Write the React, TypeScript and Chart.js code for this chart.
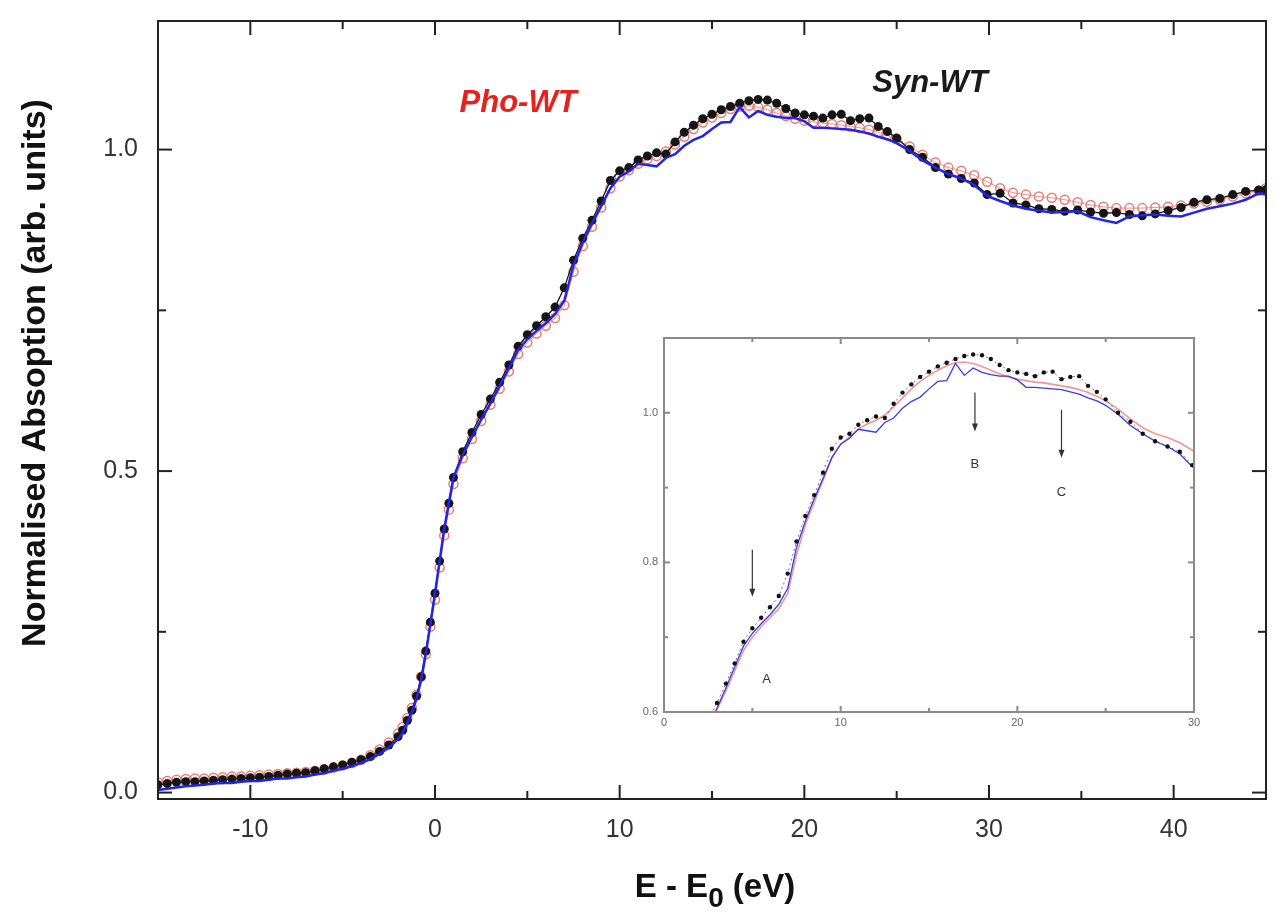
import React, { useEffect, useRef } from "react";
import { Chart, registerables } from "chart.js";

Chart.register(...registerables);

// ---------- DATA ----------
const energy = [
  -15, -14.5, -14, -13.5, -13, -12.5, -12, -11.5, -11, -10.5, -10, -9.5, -9, -8.5, -8, -7.5, -7, -6.5, -6, -5.5, -5, -4.5, -4, -3.5, -3, -2.5, -2,
  -1.75, -1.5, -1.25, -1, -0.75, -0.5, -0.25, 0, 0.25, 0.5, 0.75, 1,
  1.5, 2, 2.5, 3, 3.5, 4, 4.5, 5, 5.5, 6, 6.5, 7, 7.5, 8, 8.5, 9, 9.5, 10, 10.5, 11, 11.5, 12, 12.5, 13, 13.5, 14, 14.5, 15, 15.5, 16, 16.5, 17, 17.5, 18, 18.5, 19, 19.5, 20, 20.5, 21, 21.5, 22, 22.5, 23, 23.5, 24, 24.5, 25,
  25.7, 26.4, 27.1, 27.8, 28.5, 29.2, 29.9, 30.6, 31.3, 32, 32.7, 33.4, 34.1, 34.8, 35.5, 36.2, 36.9, 37.6, 38.3, 39, 39.7, 40.4, 41.1, 41.8, 42.5, 43.2, 43.9, 44.6, 45,
];

const synWT = [
  0.012, 0.014, 0.016, 0.017, 0.017, 0.018, 0.019, 0.02, 0.021, 0.022, 0.023, 0.024, 0.025, 0.027, 0.029, 0.03, 0.031, 0.034, 0.037, 0.04, 0.043, 0.047, 0.051, 0.056, 0.064, 0.074, 0.087,
  0.097, 0.112, 0.128, 0.15, 0.18, 0.22, 0.265, 0.31, 0.36, 0.41, 0.45, 0.49,
  0.53, 0.56, 0.588, 0.612, 0.638, 0.665, 0.694, 0.712, 0.726, 0.74, 0.755, 0.785, 0.828, 0.862, 0.89, 0.92, 0.952, 0.967, 0.972, 0.984, 0.99, 0.995, 0.993, 1.012, 1.027, 1.038, 1.048, 1.055, 1.062, 1.067, 1.072, 1.076, 1.078, 1.077, 1.072, 1.064, 1.057, 1.054, 1.052, 1.049, 1.054, 1.055, 1.045, 1.048, 1.049, 1.036, 1.028, 1.018,
  1.0, 0.988, 0.972, 0.962, 0.955, 0.948, 0.93, 0.932, 0.917, 0.914, 0.908, 0.907, 0.904, 0.906, 0.903, 0.901, 0.902, 0.899, 0.897, 0.9, 0.905, 0.91, 0.918, 0.922, 0.924, 0.93, 0.935, 0.937, 0.938,
];

const phoWT = [
  0.016, 0.018, 0.02, 0.021, 0.022, 0.022, 0.023, 0.024, 0.025, 0.025, 0.026, 0.027, 0.028, 0.029, 0.03, 0.031, 0.032, 0.034, 0.036, 0.039, 0.042, 0.046, 0.051, 0.058, 0.067, 0.078, 0.092,
  0.102, 0.116, 0.132, 0.152, 0.18, 0.215, 0.258, 0.3, 0.35, 0.4, 0.44, 0.48,
  0.52, 0.55, 0.578, 0.603, 0.628, 0.655, 0.682, 0.7, 0.714, 0.726, 0.738, 0.758, 0.81, 0.85, 0.88, 0.91, 0.94, 0.958, 0.968, 0.978, 0.985, 0.99, 0.997, 1.008, 1.02, 1.032, 1.042, 1.05, 1.057, 1.063, 1.067, 1.068, 1.066, 1.062, 1.057, 1.052, 1.048, 1.045, 1.043, 1.041, 1.04, 1.038, 1.036, 1.034, 1.031, 1.027, 1.022, 1.016,
  1.005, 0.992, 0.98, 0.972, 0.967, 0.96, 0.95, 0.94, 0.933, 0.93, 0.927, 0.925, 0.922, 0.918, 0.914, 0.911, 0.909, 0.909, 0.909, 0.91, 0.911, 0.913, 0.916, 0.919, 0.922, 0.927, 0.932, 0.936, 0.94,
];

const blueWT = [
  0.004, 0.006, 0.008, 0.01, 0.011, 0.012, 0.014, 0.015, 0.015, 0.017, 0.018, 0.018, 0.02, 0.022, 0.022, 0.024, 0.025, 0.028, 0.03, 0.034, 0.037, 0.041, 0.046, 0.052, 0.06, 0.07, 0.083,
  0.093, 0.108, 0.125, 0.146, 0.175, 0.215, 0.262, 0.31, 0.36, 0.41, 0.45, 0.49,
  0.525, 0.553, 0.58, 0.605, 0.632, 0.66, 0.688, 0.705, 0.718, 0.73, 0.744, 0.765, 0.82, 0.855, 0.885, 0.912, 0.94, 0.958, 0.966, 0.978, 0.976, 0.974, 0.987, 0.993, 1.006, 1.015, 1.021, 1.032, 1.042, 1.043, 1.066, 1.05, 1.06, 1.054, 1.051, 1.049, 1.049, 1.044, 1.034, 1.034, 1.033, 1.032, 1.031, 1.028, 1.025, 1.02, 1.016, 1.01,
  0.998, 0.983, 0.972, 0.962, 0.955, 0.945, 0.928, 0.92, 0.913, 0.908, 0.905, 0.902, 0.903, 0.904, 0.895, 0.89, 0.886, 0.896, 0.898, 0.899, 0.897, 0.896, 0.902, 0.908, 0.912, 0.916, 0.922, 0.932, 0.93,
];

const mainXTicks = [-10, 0, 10, 20, 30, 40];
const mainXMinor = [-5, 5, 15, 25, 35];
const mainYTicks = [0, 0.5, 1.0];
const mainYMinor = [0.25, 0.75];

const insetXTicks = [0, 10, 20, 30];
const insetXMinor = [5, 15, 25];
const insetYTicks = [0.6, 0.8, 1.0];
const insetYMinor = [0.7, 0.9];

const seriesLabels = ["Pho-WT", "Syn-WT"];
const labelX = [4.5, 26.8];
const labelY = [1.058, 1.09];

const arrowNames = ["A", "B", "C"];
const arrowX = [5.0, 17.6, 22.5];
const arrowTop = [0.817, 1.027, 1.004];
const arrowBottom = [0.754, 0.975, 0.94];
const arrowLabelX = [5.8, 17.6, 22.5];
const arrowLabelY = [0.643, 0.931, 0.894];

const FONT = "'Liberation Sans', Arial, Helvetica, sans-serif";

// ---------- helpers ----------
function pts(ys: number[]) {
  return energy.map((e, i) => ({ x: e, y: ys[i] }));
}

function zeroPad(s: any) {
  s.paddingTop = 0;
  s.paddingBottom = 0;
  s.paddingLeft = 0;
  s.paddingRight = 0;
}

function frameTicksPlugin(cfg: any) {
  return {
    id: "frameTicks" + cfg.id,
    afterDatasetsDraw(chart: any) {
      const { ctx, chartArea: a, scales } = chart;
      const x = scales.x;
      const y = scales.y;
      ctx.save();
      ctx.strokeStyle = cfg.color;
      ctx.lineWidth = cfg.lineWidth;
      const seg = (x1: number, y1: number, x2: number, y2: number) => {
        ctx.beginPath();
        ctx.moveTo(x1, y1);
        ctx.lineTo(x2, y2);
        ctx.stroke();
      };
      const xt = (vals: number[], len: number) =>
        vals.forEach((v) => {
          const p = x.getPixelForValue(v);
          seg(p, a.bottom, p, a.bottom - len);
          seg(p, a.top, p, a.top + len);
        });
      const yt = (vals: number[], len: number) =>
        vals.forEach((v) => {
          const p = y.getPixelForValue(v);
          seg(a.left, p, a.left + len, p);
          seg(a.right, p, a.right - len, p);
        });
      xt(cfg.xMajor, cfg.major);
      xt(cfg.xMinor, cfg.minor);
      yt(cfg.yMajor, cfg.major);
      yt(cfg.yMinor, cfg.minor);
      ctx.strokeRect(a.left, a.top, a.right - a.left, a.bottom - a.top);
      ctx.restore();
    },
  };
}

const mainTextPlugin = {
  id: "mainText",
  afterDraw(chart: any) {
    const { ctx, scales } = chart;
    const x = scales.x;
    const y = scales.y;
    ctx.save();
    // y-axis title
    ctx.translate(36, 373);
    ctx.rotate(-Math.PI / 2);
    ctx.font = `bold 34px ${FONT}`;
    ctx.fillStyle = "#111";
    ctx.textAlign = "center";
    ctx.textBaseline = "middle";
    ctx.fillText("Normalised Absoption (arb. units)", 0, 0);
    ctx.restore();

    // x-axis title with subscript
    ctx.save();
    ctx.fillStyle = "#111";
    ctx.textBaseline = "alphabetic";
    ctx.textAlign = "left";
    const big = `bold 33px ${FONT}`;
    const small = `bold 28px ${FONT}`;
    ctx.font = big;
    const w1 = ctx.measureText("E - E").width;
    const w3 = ctx.measureText(" (eV)").width;
    ctx.font = small;
    const w2 = ctx.measureText("0").width;
    const total = w1 + w2 + w3;
    let cx = 715 - total / 2;
    const base = 897;
    ctx.font = big;
    ctx.fillText("E - E", cx, base);
    cx += w1;
    ctx.font = small;
    ctx.fillText("0", cx, base + 10);
    cx += w2;
    ctx.font = big;
    ctx.fillText(" (eV)", cx, base);
    ctx.restore();

    // series labels
    ctx.save();
    ctx.textAlign = "center";
    ctx.textBaseline = "alphabetic";
    ctx.font = `italic bold 31px ${FONT}`;
    const colors = ["#e8201e", "#1a1a1a"];
    seriesLabels.forEach((t, i) => {
      ctx.fillStyle = colors[i];
      ctx.fillText(t, x.getPixelForValue(labelX[i]), y.getPixelForValue(labelY[i]));
    });
    ctx.restore();
  },
};

const insetAnnPlugin = {
  id: "insetAnn",
  afterDraw(chart: any) {
    const { ctx, scales } = chart;
    const x = scales.x;
    const y = scales.y;
    ctx.save();
    ctx.strokeStyle = "#333";
    ctx.fillStyle = "#333";
    ctx.lineWidth = 1.2;
    arrowNames.forEach((n, i) => {
      const px = x.getPixelForValue(arrowX[i]);
      const y1 = y.getPixelForValue(arrowTop[i]);
      const y2 = y.getPixelForValue(arrowBottom[i]);
      ctx.beginPath();
      ctx.moveTo(px, y1);
      ctx.lineTo(px, y2 - 6);
      ctx.stroke();
      ctx.beginPath();
      ctx.moveTo(px - 3, y2 - 8);
      ctx.lineTo(px + 3, y2 - 8);
      ctx.lineTo(px, y2);
      ctx.closePath();
      ctx.fill();
      ctx.font = `13px ${FONT}`;
      ctx.textAlign = "center";
      ctx.textBaseline = "middle";
      ctx.fillText(n, x.getPixelForValue(arrowLabelX[i]), y.getPixelForValue(arrowLabelY[i]));
    });
    ctx.restore();
  },
};

function MainChart() {
  const ref = useRef<HTMLCanvasElement | null>(null);
  useEffect(() => {
    if (!ref.current) return;
    const chart = new Chart(ref.current, {
      type: "line",
      data: {
        datasets: [
          {
            label: "Syn-WT",
            data: pts(synWT),
            borderColor: "#151515",
            borderWidth: 1.3,
            pointRadius: 4.5,
            pointBackgroundColor: "#151515",
            pointBorderColor: "#151515",
            pointBorderWidth: 0,
            order: 1,
          },
          {
            label: "Pho-WT",
            data: pts(phoWT),
            borderColor: "rgba(236,130,125,0.9)",
            borderWidth: 1,
            pointRadius: 4.5,
            pointBackgroundColor: "rgba(255,255,255,0)",
            pointBorderColor: "rgb(232,125,115)",
            pointBorderWidth: 1.5,
            order: 2,
          },
          {
            label: "WT",
            data: pts(blueWT),
            borderColor: "rgb(35,35,235)",
            borderWidth: 2.5,
            pointRadius: 0,
            order: 0,
          },
        ] as any,
      },
      options: {
        animation: false,
        responsive: false,
        layout: { padding: { top: 21, right: 9, left: 0, bottom: 0 } },
        plugins: { legend: { display: false }, tooltip: { enabled: false } },
        elements: { line: { tension: 0 } },
        scales: {
          x: {
            type: "linear",
            min: -15,
            max: 45,
            grid: { display: false, drawTicks: false },
            border: { display: false },
            afterBuildTicks: (s: any) => {
              s.ticks = mainXTicks.map((v) => ({ value: v }));
            },
            afterFit: (s: any) => {
              s.height = 121;
              zeroPad(s);
            },
            ticks: {
              autoSkip: false,
              maxRotation: 0,
              padding: 16,
              color: "#333",
              font: { family: FONT, size: 25 },
              callback: (v: any) => String(v),
            },
          },
          y: {
            type: "linear",
            min: -0.01,
            max: 1.2,
            grid: { display: false, drawTicks: false },
            border: { display: false },
            afterBuildTicks: (s: any) => {
              s.ticks = mainYTicks.map((v) => ({ value: v }));
            },
            afterFit: (s: any) => {
              s.width = 158;
              zeroPad(s);
            },
            ticks: {
              autoSkip: false,
              padding: 20,
              color: "#333",
              font: { family: FONT, size: 25 },
              callback: (v: any) => Number(v).toFixed(1),
            },
          },
        },
      } as any,
      plugins: [
        frameTicksPlugin({
          id: "main",
          color: "#222",
          lineWidth: 2,
          major: 14,
          minor: 8,
          xMajor: mainXTicks,
          xMinor: mainXMinor,
          yMajor: mainYTicks,
          yMinor: mainYMinor,
        }),
        mainTextPlugin,
      ],
    });
    return () => chart.destroy();
  }, []);
  return (
    <canvas
      ref={ref}
      width={1275}
      height={920}
      style={{ position: "absolute", left: 0, top: 0, width: 1275, height: 920 }}
    />
  );
}

function InsetChart() {
  const ref = useRef<HTMLCanvasElement | null>(null);
  useEffect(() => {
    if (!ref.current) return;
    const chart = new Chart(ref.current, {
      type: "line",
      data: {
        datasets: [
          {
            label: "Syn-WT",
            data: pts(synWT),
            borderColor: "rgba(40,40,40,0.8)",
            borderWidth: 0.8,
            borderDash: [2, 3],
            pointRadius: 2.2,
            pointBackgroundColor: "#111",
            pointBorderWidth: 0,
            order: 0,
          },
          {
            label: "Pho-WT",
            data: pts(phoWT),
            borderColor: "rgba(240,140,140,0.9)",
            borderWidth: 1.6,
            pointRadius: 0,
            order: 2,
          },
          {
            label: "WT",
            data: pts(blueWT),
            borderColor: "rgb(60,60,230)",
            borderWidth: 1.3,
            pointRadius: 0,
            order: 1,
          },
        ] as any,
      },
      options: {
        animation: false,
        responsive: false,
        layout: { padding: { top: 18, right: 16, left: 0, bottom: 0 } },
        plugins: { legend: { display: false }, tooltip: { enabled: false } },
        elements: { line: { tension: 0 } },
        scales: {
          x: {
            type: "linear",
            min: 0,
            max: 30,
            grid: { display: false, drawTicks: false },
            border: { display: false },
            afterBuildTicks: (s: any) => {
              s.ticks = insetXTicks.map((v) => ({ value: v }));
            },
            afterFit: (s: any) => {
              s.height = 28;
              zeroPad(s);
            },
            ticks: {
              autoSkip: false,
              maxRotation: 0,
              padding: 4,
              color: "#666",
              font: { family: FONT, size: 11 },
              callback: (v: any) => String(v),
            },
          },
          y: {
            type: "linear",
            min: 0.6,
            max: 1.1,
            grid: { display: false, drawTicks: false },
            border: { display: false },
            afterBuildTicks: (s: any) => {
              s.ticks = insetYTicks.map((v) => ({ value: v }));
            },
            afterFit: (s: any) => {
              s.width = 44;
              zeroPad(s);
            },
            ticks: {
              autoSkip: false,
              padding: 6,
              color: "#666",
              font: { family: FONT, size: 11 },
              callback: (v: any) => Number(v).toFixed(1),
            },
          },
        },
      } as any,
      plugins: [
        frameTicksPlugin({
          id: "inset",
          color: "#8a8a8a",
          lineWidth: 2,
          major: 6,
          minor: 4,
          xMajor: insetXTicks,
          xMinor: insetXMinor,
          yMajor: insetYTicks,
          yMinor: insetYMinor,
        }),
        insetAnnPlugin,
      ],
    });
    return () => chart.destroy();
  }, []);
  return (
    <canvas
      ref={ref}
      width={590}
      height={420}
      style={{ position: "absolute", left: 620, top: 320, width: 590, height: 420 }}
    />
  );
}

export default function App() {
  return (
    <div
      style={{
        position: "fixed",
        left: 0,
        top: 0,
        width: 1275,
        height: 920,
        background: "#fff",
        overflow: "hidden",
      }}
    >
      <MainChart />
      <InsetChart />
    </div>
  );
}
